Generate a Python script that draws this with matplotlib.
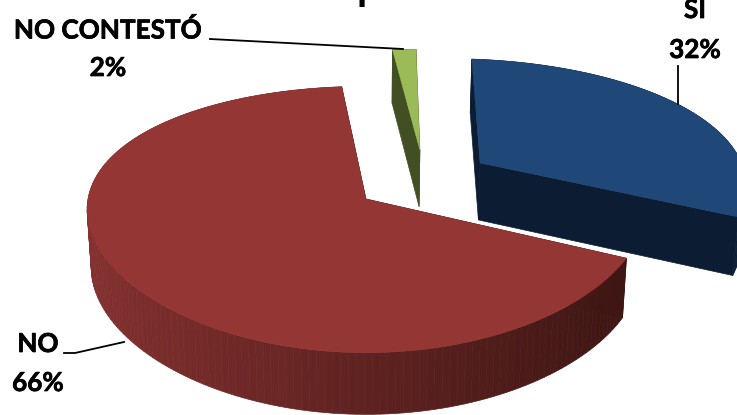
"""Exploded 3D-look pie chart, drawn as projected polygons."""

import matplotlib

matplotlib.use("Agg")
import matplotlib.patheffects as pe
import matplotlib.pyplot as plt
import numpy as np

names = ["SI", "NO", "NO CONTESTÓ"]
values = [32.0, 66.5, 1.5]
percent_labels = ["32%", "66%", "2%"]

top_colors = ["#1f4778", "#943634", "#9bbb59"]
face_colors = ["#0c1d33", "#3e1613", "#414f22"]
wall_left = ["#0c1d33", "#843130", "#414f22"]
wall_right = ["#0c1d33", "#3e1613", "#414f22"]
explode = [(0.42, 0.29), (0.0, 0.0), (0.20, 0.40)]
# the SI rim is flatter in the original than a true circle
flatten = [0.06, 0.0, 0.0]

CX, CY = 366, 199
A, B = 278, 130
K_X, K_Y = 0.08, 0.154


def project(u, v, bottom=False):
    x = CX + A * u / (1 + K_X * v)
    y = CY - B * v / (1 + K_Y * v)
    if bottom:
        x = CX + (x - CX) * 0.985
        y = y + 58 / (1 + 0.06 * v)
    return x, y


def draw_slice(ax, start, stop, offset, flat, top, face, left, right):
    # angles run clockwise from start to stop, in degrees
    t = np.radians(np.linspace(start, stop, max(int(abs(stop - start) / 1.5), 4)))
    r = 1 - flat * np.sin(np.linspace(0, np.pi, len(t)))
    u = offset[0] + r * np.cos(t)
    v = offset[1] + r * np.sin(t)
    x_top, y_top = project(u, v)
    x_bot, y_bot = project(u, v, bottom=True)
    ax_top, ay_top = project(offset[0], offset[1])
    ax_bot, ay_bot = project(offset[0], offset[1], bottom=True)

    # cut faces
    for i in (0, -1):
        ax.fill(
            [ax_top, x_top[i], x_bot[i], ax_bot],
            [ay_top, y_top[i], y_bot[i], ay_bot],
            color=face,
            lw=0.5,
        )

    # outer wall, shaded left to right
    c0 = np.array(matplotlib.colors.to_rgb(left))
    c1 = np.array(matplotlib.colors.to_rgb(right))
    for i in range(len(t) - 1):
        frac = np.clip((np.cos(t[i]) + 1) / 1.9, 0, 1)
        col = c0 + (c1 - c0) * frac
        ax.fill(
            [x_top[i], x_top[i + 1], x_bot[i + 1], x_bot[i]],
            [y_top[i], y_top[i + 1], y_bot[i + 1], y_bot[i]],
            color=col,
            lw=0.5,
        )

    ax.fill(
        np.r_[ax_top, x_top],
        np.r_[ay_top, y_top],
        color=top,
        lw=0.3,
    )


fig = plt.figure(figsize=(7.37, 4.15), dpi=100)
ax = fig.add_axes([0, 0, 1, 1])
ax.set_xlim(0, 737)
ax.set_ylim(415, 0)
ax.axis("off")

angles = 90 - np.cumsum([0] + values) * 3.6
for i in [2, 1, 0]:
    draw_slice(
        ax,
        angles[i],
        angles[i + 1],
        explode[i],
        flatten[i],
        top_colors[i],
        face_colors[i],
        wall_left[i],
        wall_right[i],
    )

# leader lines
ax.plot([210, 403], [39, 49], color="black", lw=1.3)
ax.plot([678, 678], [66, 104], color="black", lw=1.3)
ax.plot([64, 75, 124], [353, 353, 342], color="black", lw=1.3)

# Lato bold is lighter than the original face, so thicken it a little
heavy = [pe.withStroke(linewidth=0.5, foreground="black")]
font = dict(
    family="Lato",
    weight="bold",
    size=18.8,
    ha="center",
    va="center",
    path_effects=heavy,
)
ax.text(695, 10, names[0], **font)
ax.text(695, 50, percent_labels[0], **font)
ax.text(108, 30, names[2], **font)
ax.text(108, 68, percent_labels[2], **font)
ax.text(38, 344, names[1], **font)
ax.text(38, 383, percent_labels[1], **font)

# only the descender of the cut-off title shows
ax.text(368, -12, "p", family="Lato", weight="bold", size=30, ha="center", va="center")

fig.savefig("out.png", dpi=100)
